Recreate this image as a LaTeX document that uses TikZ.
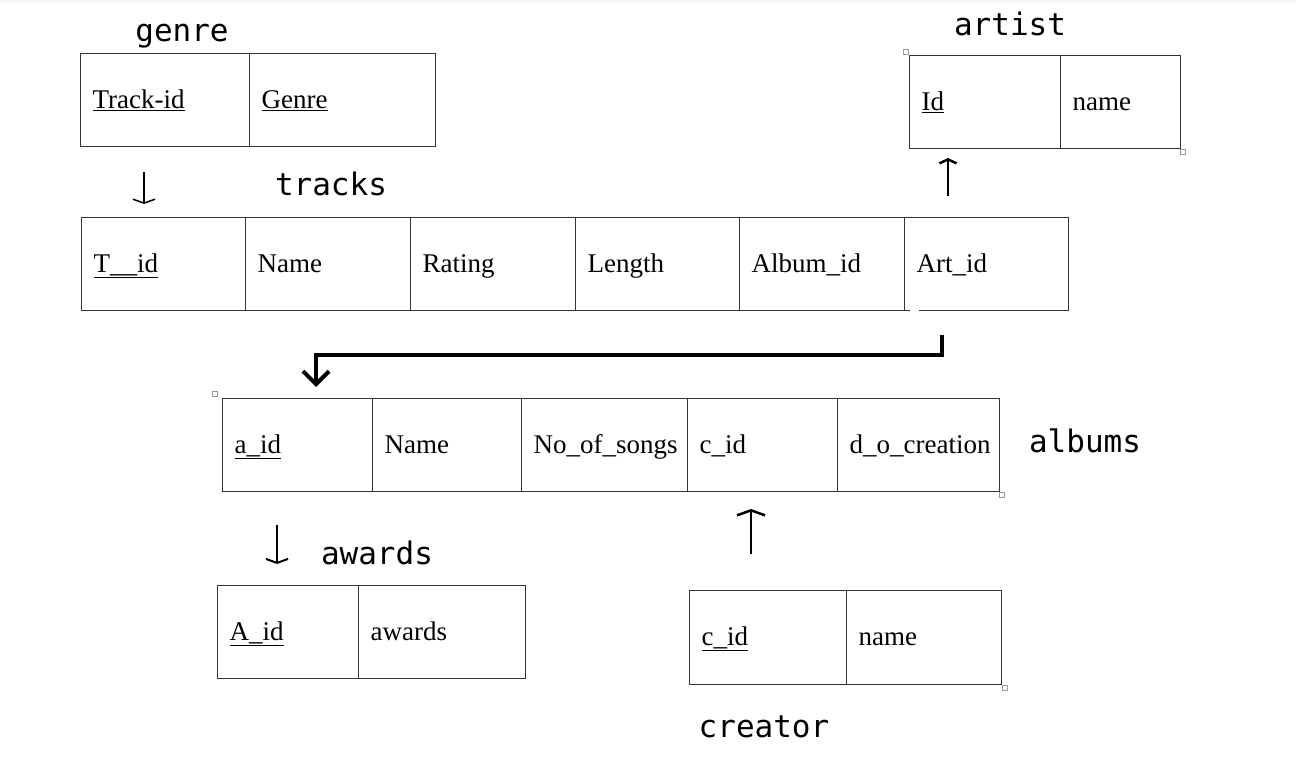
\documentclass[tikz,border=0pt]{standalone}
\usepackage{fontspec}
\setmainfont{Liberation Serif}
\newfontfamily\titlefont{DejaVu Sans Mono}
\usetikzlibrary{arrows.meta}
\begin{document}
\begin{tikzpicture}[x=1pt,y=-1pt,
  cell/.style={draw=black!80, line width=1.3pt, rectangle, anchor=north west,
    minimum height=93pt, inner xsep=12pt, inner ysep=0pt, align=left,
    text height=19pt, text depth=3pt,
    font=\fontsize{27}{30}\selectfont},
  title/.style={font=\titlefont\fontsize{31}{36}\selectfont, inner sep=0pt},
  thinarrow/.style={line width=2pt, -{Straight Barb[length=4pt,width=22pt]}},
  thickarrow/.style={line width=4pt, -{Straight Barb[length=13pt,width=26pt]}},
  handle/.style={draw=black!40, line width=0.7pt, fill=white}
]
\useasboundingbox (0,0) rectangle (1296,765);
\fill[black!4] (0,0) rectangle (1296,3);

% genre
\node[title] (tgenre) at (182,36) {genre};
\node[cell, text width=145pt] (g1) at (80,53) {\underline{Track-id}};
\node[cell, text width=162pt] (g2) at (249,53) {\underline{Genre}};

% artist
\node[title] (tartist) at (1010,24) {artist};
\node[cell, text width=127pt] (ar1) at (909,55) {\underline{Id}};
\node[cell, text width=96pt] (ar2) at (1060,55) {name};

% tracks
\node[title] (ttracks) at (331,184) {tracks};
\node[cell, text width=140pt] (t1) at (81,217) {\underline{T\_\_id}};
\node[cell, text width=141pt] (t2) at (245,217) {Name};
\node[cell, text width=141pt] (t3) at (410,217) {Rating};
\node[cell, text width=140pt] (t4) at (575,217) {Length};
\node[cell, text width=141pt] (t5) at (739,217) {Album\_id};
\node[cell, text width=140pt] (t6) at (904,217) {Art\_id};
\draw[white, line width=2pt] (910,310) -- (919,310);

% albums
\node[title] (talbums) at (1085,441) {albums};
\node[cell, text width=126pt] (al1) at (222,398) {\underline{a\_id}};
\node[cell, text width=125pt] (al2) at (372,398) {Name};
\node[cell, text width=142pt] (al3) at (521,398) {No\_of\_songs};
\node[cell, text width=126pt] (al4) at (687,398) {c\_id};
\node[cell, text width=138pt] (al5) at (837,398) {d\_o\_creation};

% awards
\node[title] (tawards) at (377,553) {awards};
\node[cell, text width=117pt] (aw1) at (217,585) {\underline{A\_id}};
\node[cell, text width=143pt] (aw2) at (358,585) {awards};

% creator
\node[title] (tcreator) at (764,727) {creator};
\node[cell, text width=133pt, minimum height=94pt] (c1) at (689,590) {\underline{c\_id}};
\node[cell, text width=131pt, minimum height=94pt] (c2) at (846,590) {name};

% handles
\foreach \hx/\hy in {906/52, 1183/152, 215/394, 1002/495, 1005/688}
  \draw[handle] (\hx-2.5,\hy-2.5) rectangle (\hx+2.5,\hy+2.5);

% connectors
\coordinate (a1s) at (144,172);
\coordinate (a1e) at (144,204);
\draw[thinarrow, line width=1.5pt] (a1s) -- (a1e);

\coordinate (a2s) at (948,196);
\coordinate (a2e) at (948,158);
\draw[thinarrow, line width=2.5pt, -{Straight Barb[length=4pt,width=17pt]}] (a2s) -- (a2e);

\coordinate (a3s) at (942,335);
\coordinate (a3m) at (316,355);
\coordinate (a3e) at (316,387);
\draw[thickarrow] (a3s) |- (a3m) -- (a3e);

\coordinate (a4s) at (277,525);
\coordinate (a4e) at (277,564);
\draw[thinarrow] (a4s) -- (a4e);

\coordinate (a5s) at (751,554);
\coordinate (a5e) at (751,509);
\draw[thinarrow, line width=2.5pt, -{Straight Barb[length=5pt,width=28pt]}] (a5s) -- (a5e);
\end{tikzpicture}
\end{document}
